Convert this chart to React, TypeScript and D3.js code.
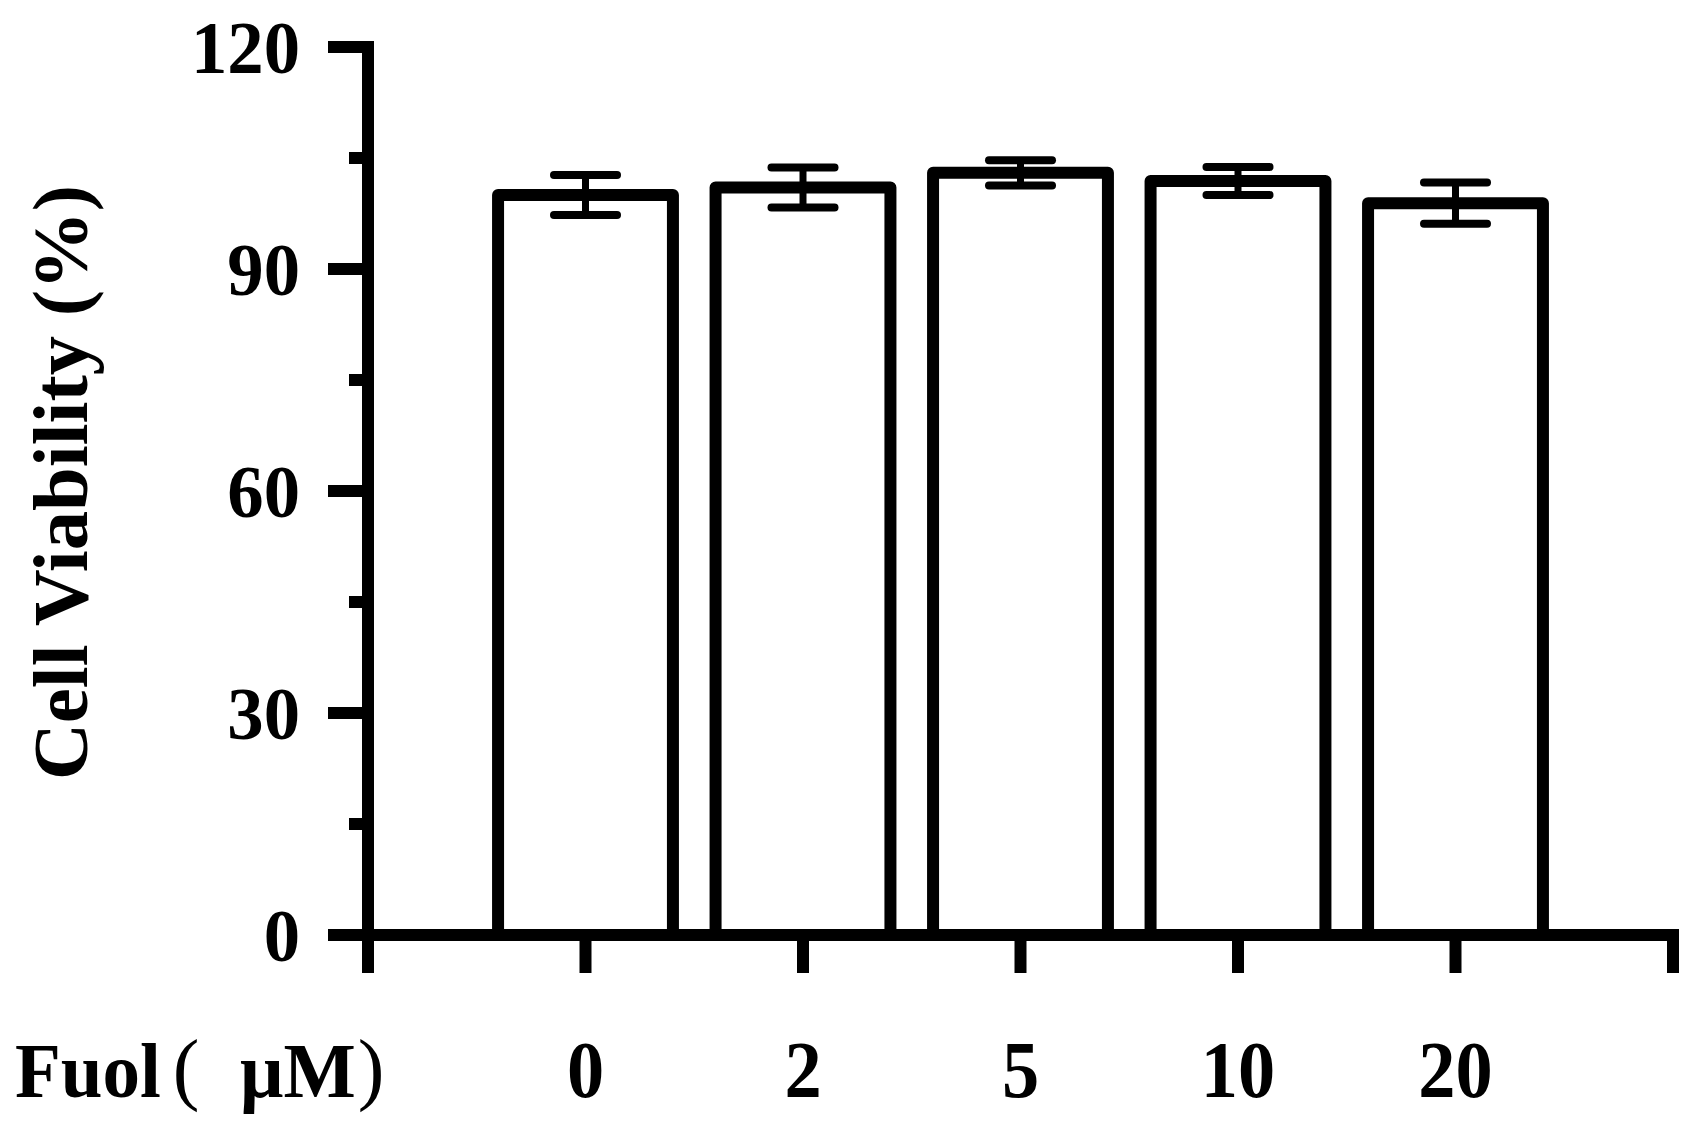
import React from "react";
import * as d3 from "d3";

const categories = ["0", "2", "5", "10", "20"];
const means = [100.0, 101.0, 103.0, 101.9, 98.9];
const errors = [2.7, 2.7, 1.7, 1.9, 2.8];
const yMajorTicks = [0, 30, 60, 90, 120];
const yMinorTicks = [15, 45, 75, 105];
const yTitle = "Cell Viability  (%)";
const xTitleName = "Fuol";
const xTitleUnit = "μM";

const W = 1704;
const H = 1134;
const FONT = "'Liberation Serif', 'Times New Roman', serif";

export default function App() {
  const y = d3.scaleLinear().domain([0, 120]).range([935, 47]);
  const x = d3.scaleLinear().domain([0, categories.length + 1]).range([368, 1673]);
  const step = x(1) - x(0);
  const barHalf = step * 0.402;
  const axisW = 12;
  const majorLen = 40;
  const minorLen = 19;
  const xTickLen = 38;
  const x0 = x(0);
  const y0 = y(0);
  const xEnd = x(categories.length + 1);
  const labelBase = 1097;

  return (
    <svg width={W} height={H} style={{ display: "block", position: "absolute", left: 0, top: 0 }}>
      <rect x={0} y={0} width={W} height={H} fill="#fff" />
      {/* bars */}
      {categories.map((c, i) => {
        const cx = x(i + 1);
        const top = y(means[i]);
        return (
          <path
            key={"bar" + c}
            d={`M${cx - barHalf},${y0} V${top} H${cx + barHalf} V${y0}`}
            fill="#fff"
            stroke="#000"
            strokeWidth={12}
            strokeLinejoin="round"
          />
        );
      })}
      {/* error bars */}
      {categories.map((c, i) => {
        const cx = x(i + 1);
        const hi = y(means[i] + errors[i]);
        const lo = y(means[i] - errors[i]);
        const cap = 31.5;
        return (
          <g key={"err" + c} stroke="#000">
            <line x1={cx} x2={cx} y1={hi} y2={lo} strokeWidth={7} />
            <line x1={cx - cap} x2={cx + cap} y1={hi} y2={hi} strokeWidth={8} strokeLinecap="round" />
            <line x1={cx - cap} x2={cx + cap} y1={lo} y2={lo} strokeWidth={8} strokeLinecap="round" />
          </g>
        );
      })}
      {/* y axis */}
      <line x1={x0} x2={x0} y1={y(120) - axisW / 2} y2={y0 + xTickLen} stroke="#000" strokeWidth={axisW} />
      {yMajorTicks.map((t) => (
        <line key={"ymj" + t} x1={x0 - majorLen} x2={x0} y1={y(t)} y2={y(t)} stroke="#000" strokeWidth={axisW} />
      ))}
      {yMinorTicks.map((t) => (
        <line key={"ymn" + t} x1={x0 - minorLen} x2={x0} y1={y(t)} y2={y(t)} stroke="#000" strokeWidth={axisW} />
      ))}
      {/* x axis */}
      <line x1={x0 - majorLen} x2={xEnd + axisW / 2} y1={y0} y2={y0} stroke="#000" strokeWidth={axisW} />
      {d3.range(1, categories.length + 2).map((k) => (
        <line key={"xt" + k} x1={x(k)} x2={x(k)} y1={y0} y2={y0 + xTickLen} stroke="#000" strokeWidth={axisW} />
      ))}
      {/* y tick labels */}
      {yMajorTicks.map((t) => (
        <text
          key={"yl" + t}
          transform={`translate(${x0 - majorLen - 28},${y(t) + 26}) scale(0.97,1)`}
          textAnchor="end"
          fontFamily={FONT}
          fontWeight="bold"
          fontSize={75}
          fill="#000"
        >
          {t}
        </text>
      ))}
      {/* x tick labels */}
      {categories.map((c, i) => (
        <text
          key={"xl" + c}
          transform={`translate(${x(i + 1)},${labelBase}) scale(0.93,1)`}
          textAnchor="middle"
          fontFamily={FONT}
          fontWeight="bold"
          fontSize={80}
          fill="#000"
        >
          {c}
        </text>
      ))}
      {/* x title */}
      <text transform={`translate(15,${labelBase}) scale(0.95,1)`} fontFamily={FONT} fontWeight="bold" fontSize={79} fill="#000">
        {xTitleName}
      </text>
      <text x={186} y={labelBase - 2} textAnchor="middle" fontFamily={FONT} fontWeight="normal" fontSize={80} fill="#000">
        (
      </text>
      <text transform={`translate(240,${labelBase}) scale(0.97,1)`} fontFamily={FONT} fontWeight="bold" fontSize={79} fill="#000">
        {xTitleUnit}
      </text>
      <text x={371} y={labelBase - 2} textAnchor="middle" fontFamily={FONT} fontWeight="normal" fontSize={80} fill="#000">
        )
      </text>
      {/* y title */}
      <text
        transform={`translate(87,780) rotate(-90)`}
        textAnchor="start"
        fontFamily={FONT}
        fontWeight="bold"
        fontSize={78}
        textLength={595}
        lengthAdjust="spacingAndGlyphs"
        fill="#000"
      >
        {yTitle}
      </text>
    </svg>
  );
}
